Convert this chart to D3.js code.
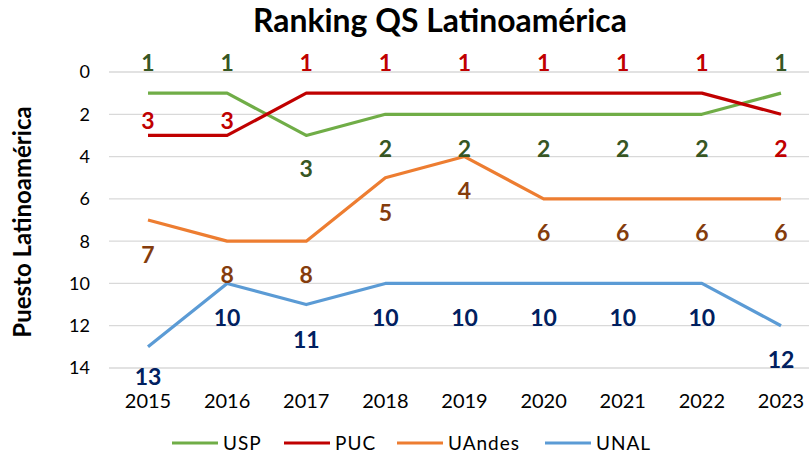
<!DOCTYPE html>
<html lang="es">
<head>
<meta charset="UTF-8">
<title>Ranking QS Latinoamérica</title>
<script src="https://d3js.org/d3.v7.min.js"></script>
<style>
    body { margin: 0; background: #fff; }
    svg { display: block; font-family: Lato, "Open Sans", sans-serif; }
    .grid line { stroke: #d9d9d9; stroke-width: 1.3px; }
    .tick-y { font-size: 18px; fill: #000; text-anchor: end; }
    .tick-x { font-size: 20px; fill: #000; text-anchor: middle; }
    .value-label { font-size: 23px; font-weight: bold; text-anchor: middle; }
    .legend-text { font-size: 19px; fill: #000; letter-spacing: 1px; }
</style>
</head>
<body>
<svg width="809" height="460"></svg>
<script>
    // datos
    const years = ["2015", "2016", "2017", "2018", "2019", "2020", "2021", "2022", "2023"];
    const seriesNames = ["USP", "PUC", "UAndes", "UNAL"];
    const usp = [1, 1, 3, 2, 2, 2, 2, 2, 1];
    const puc = [3, 3, 1, 1, 1, 1, 1, 1, 2];
    const uandes = [7, 8, 8, 5, 4, 6, 6, 6, 6];
    const unal = [13, 10, 11, 10, 10, 10, 10, 10, 12];
    const yTicks = [0, 2, 4, 6, 8, 10, 12, 14];

    // estilos
    const lineColors = ["#70ad47", "#c00000", "#ed7d31", "#5b9bd5"];
    const labelColors = ["#375623", "#c00000", "#843c0c", "#002060"];
    // desplazamiento vertical de cada etiqueta (px, respecto al punto)
    const labelShift = [
        [-30, -30, 33, 34, 34, 34, 34, 34, -30],
        [-15, -15, -30, -30, -30, -30, -30, -30, 34],
        [35, 34, 34, 35, 34, 34, 34, 34, 34],
        [30, 34, 35, 34, 34, 34, 34, 34, 34]
    ];

    const allValues = [usp, puc, uandes, unal];
    const series = seriesNames.map((name, i) => ({
        name: name,
        values: allValues[i].map((v, j) => ({ year: years[j], value: v, dy: labelShift[i][j] })),
        color: lineColors[i],
        labelColor: labelColors[i]
    }));

    const svg = d3.select("svg");

    const x = d3.scalePoint().domain(years).range([148, 781]);
    const y = d3.scaleLinear().domain([0, 14]).range([72, 368]);

    // título
    const title = svg.append("text")
        .attr("x", 440)
        .attr("y", 32)
        .attr("text-anchor", "middle")
        .style("font-weight", "bold")
        .style("font-size", "28px")
        .text("Ranking QS Latinoamérica");
    const tw = title.node().getComputedTextLength();
    title.style("font-size", (28 * 374 / tw) + "px");

    // rejilla
    svg.append("g").attr("class", "grid")
        .selectAll("line")
        .data(yTicks)
        .enter()
        .append("line")
        .attr("x1", 109)
        .attr("x2", 809)
        .attr("y1", d => y(d))
        .attr("y2", d => y(d));

    svg.append("g")
        .selectAll("text")
        .data(yTicks)
        .enter()
        .append("text")
        .attr("class", "tick-y")
        .attr("x", 90)
        .attr("y", d => y(d))
        .attr("dy", "0.36em")
        .text(d => d);

    svg.append("g")
        .selectAll("text")
        .data(years)
        .enter()
        .append("text")
        .attr("class", "tick-x")
        .attr("x", d => x(d))
        .attr("y", 408)
        .text(d => d);

    // título eje Y
    svg.append("text")
        .attr("transform", "translate(31,222) rotate(-90)")
        .attr("text-anchor", "middle")
        .style("font-weight", "bold")
        .style("font-size", "24px")
        .text("Puesto Latinoamérica");

    // líneas
    const line = d3.line()
        .x(d => x(d.year))
        .y(d => y(d.value));

    svg.append("g")
        .selectAll("path")
        .data(series)
        .enter()
        .append("path")
        .attr("d", d => line(d.values))
        .attr("fill", "none")
        .attr("stroke", d => d.color)
        .attr("stroke-width", 3.2)
        .attr("stroke-linejoin", "round");

    // etiquetas de valores
    series.forEach(s => {
        svg.append("g")
            .selectAll("text")
            .data(s.values)
            .enter()
            .append("text")
            .attr("class", "value-label")
            .attr("fill", s.labelColor)
            .attr("x", d => x(d.year))
            .attr("y", d => y(d.value) + d.dy)
            .attr("dy", "0.36em")
            .text(d => d.value);
    });

    // leyenda
    const legendX = [172, 284, 397, 545];
    const legend = svg.append("g")
        .selectAll("g")
        .data(series)
        .enter()
        .append("g")
        .attr("transform", (d, i) => `translate(${legendX[i]},443)`);

    legend.append("line")
        .attr("x1", 0)
        .attr("x2", 46)
        .attr("stroke", d => d.color)
        .attr("stroke-width", 3.2);

    legend.append("text")
        .attr("class", "legend-text")
        .attr("x", 51)
        .attr("dy", "0.36em")
        .text(d => d.name);
</script>
</body>
</html>
